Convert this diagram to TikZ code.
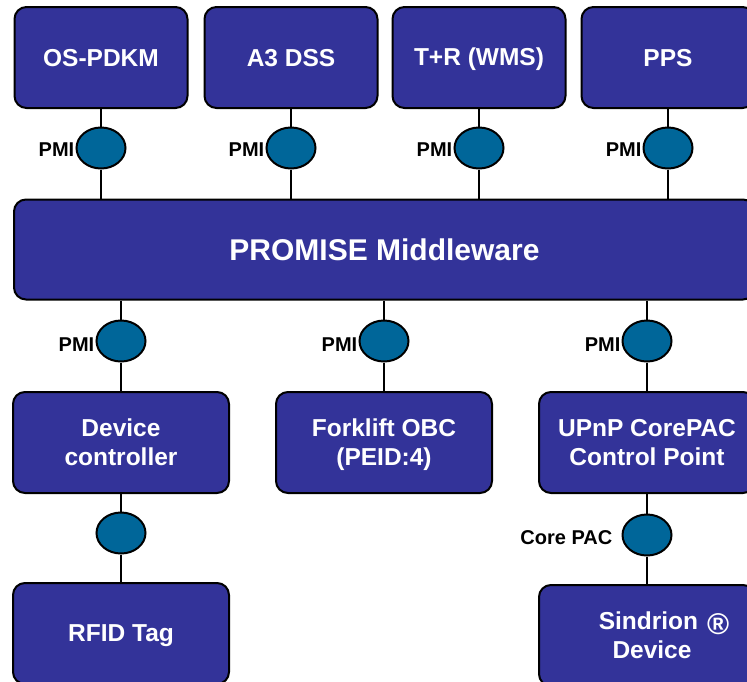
\documentclass[tikz,border=0pt]{standalone}
\usepackage{fontspec}
\setmainfont{Liberation Sans}
\usetikzlibrary{shapes.geometric}
\definecolor{boxblue}{RGB}{51,51,153}
\definecolor{pmiblue}{RGB}{0,102,153}
\newcommand\capstrut{\rule[-0.2em]{0pt}{1.1em}}
\begin{document}
\begin{tikzpicture}[x=1pt,y=-1pt,
  sysbox/.style={draw=black, line width=2pt, fill=boxblue, rounded corners=12pt,
    minimum width=173pt, minimum height=101pt, text=white, inner sep=0pt,
    font=\fontsize{24.5}{28.5}\selectfont\bfseries, align=center},
  widebox/.style={sysbox, minimum width=216pt},
  mwbox/.style={sysbox, minimum width=741pt, minimum height=100pt,
    font=\fontsize{30}{34}\selectfont\bfseries},
  pmi/.style={ellipse, draw=black, line width=2pt, fill=pmiblue,
    minimum width=49pt, minimum height=41pt, inner sep=0pt},
  pmilabel/.style={anchor=east, inner sep=1pt, text=black,
    font=\fontsize{20}{23}\selectfont\bfseries},
  conn/.style={draw=black, line width=2pt}
]
\fill[white] (0,0) rectangle (747,681);
\clip (0,0) rectangle (747,681);

% top systems
\node[sysbox] (os) at (101,57.5) {\capstrut OS-PDKM};
\node[sysbox] (a3) at (291,57.5) {\capstrut A3 DSS};
\node[sysbox] (tr) at (479,57.5) {\capstrut T+R (WMS)};
\node[sysbox] (pps) at (668,57.5) {\capstrut PPS};

% middleware
\node[mwbox] (mw) at (384.5,249.5) {\capstrut PROMISE Middleware};

% top PMI ellipses
\node[pmi] (p1) at (101,148) {};
\node[pmi] (p2) at (291,148) {};
\node[pmi] (p3) at (479,148) {};
\node[pmi] (p4) at (668,148) {};
\node[pmilabel] at ([yshift=-1.5pt]p1.west) {PMI};
\node[pmilabel] at ([yshift=-1.5pt]p2.west) {PMI};
\node[pmilabel] at ([yshift=-1.5pt]p3.west) {PMI};
\node[pmilabel] at ([yshift=-1.5pt]p4.west) {PMI};

% lower boxes
\node[widebox] (dc) at (121,442.5) {\capstrut Device\\\capstrut controller};
\node[widebox] (fl) at (384,442.5) {\capstrut Forklift OBC\\\capstrut (PEID:4)};
\node[widebox] (up) at (647,442.5) {\capstrut UPnP CorePAC\\\capstrut Control Point};
\node[widebox] (rf) at (121,633.5) {\capstrut RFID Tag};
\node[widebox] (sd) at (647,635.5) {\capstrut\hspace*{34pt}Sindrion\hspace{9pt}\raisebox{-4.5pt}{\fontsize{30}{28.5}\selectfont ®}\\\capstrut\hspace*{10pt}Device};

% lower ellipses
\node[pmi] (p5) at (121,341) {};
\node[pmi] (p6) at (384,341) {};
\node[pmi] (p7) at (647,341) {};
\node[pmi] (p8) at (121,533) {};
\node[pmi] (p9) at (647,535) {};
\node[pmilabel] at ([yshift=-3.5pt]p5.west) {PMI};
\node[pmilabel] at ([yshift=-3.5pt]p6.west) {PMI};
\node[pmilabel] at ([yshift=-3.5pt]p7.west) {PMI};
\node[pmilabel, xshift=-8pt] at ([yshift=-2.5pt]p9.west) {Core PAC};

% connectors
\draw[conn] (os) -- (p1) -- (p1 |- mw.north);
\draw[conn] (a3) -- (p2) -- (p2 |- mw.north);
\draw[conn] (tr) -- (p3) -- (p3 |- mw.north);
\draw[conn] (pps) -- (p4) -- (p4 |- mw.north);
\draw[conn] (p5 |- mw.south) -- (p5) -- (dc);
\draw[conn] (p6 |- mw.south) -- (p6) -- (fl);
\draw[conn] (p7 |- mw.south) -- (p7) -- (up);
\draw[conn] (dc) -- (p8) -- (rf);
\draw[conn] (up) -- (p9) -- (sd);
\end{tikzpicture}
\end{document}
